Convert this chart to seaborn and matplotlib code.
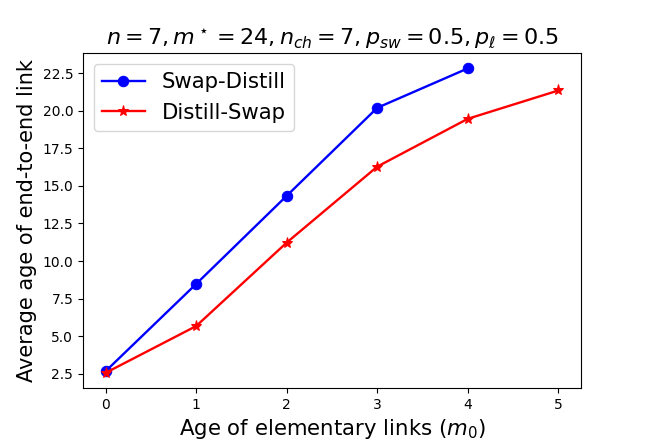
import pandas as pd
import seaborn as sns
import matplotlib
matplotlib.use("Agg")
import matplotlib.pyplot as plt

age_elem = [0, 1, 2, 3, 4, 5]
swap_distill = [2.68, 8.48, 14.34, 20.19, 22.81]
distill_swap = [2.57, 5.68, 11.23, 16.28, 19.46, 21.34]

fig, ax = plt.subplots(figsize=(6.64, 4.43), dpi=100)
fig.subplots_adjust(left=0.125, right=0.875, top=0.88, bottom=0.124)

sns.lineplot(x=age_elem[:len(swap_distill)], y=swap_distill, ax=ax, color="blue",
             marker="o", markersize=7.5, markeredgecolor="blue", linewidth=1.7,
             label="Swap-Distill")
sns.lineplot(x=age_elem, y=distill_swap, ax=ax, color="red",
             marker="*", markersize=8, markeredgecolor="red", linewidth=1.7,
             label="Distill-Swap")

ax.set_title(r"$n=7, m^\star=24, n_{ch}=7, p_{sw}=0.5, p_\ell=0.5$", fontsize=16)
ax.set_xlabel(r"Age of elementary links ($m_0$)", fontsize=15.3)
ax.set_ylabel("Average age of end-to-end link", fontsize=15)
ax.legend(loc="upper left", fontsize=15.3)

plt.savefig("out.png", dpi=100)
